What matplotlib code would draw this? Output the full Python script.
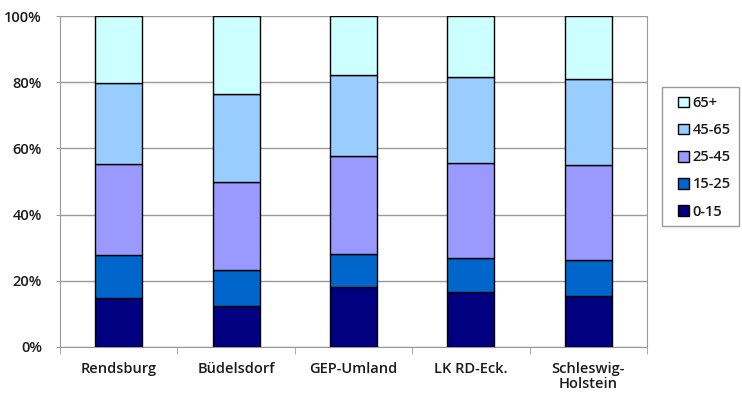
import matplotlib
matplotlib.use("Agg")
import matplotlib.pyplot as plt
from matplotlib.patches import Patch, Rectangle
from matplotlib.ticker import FixedLocator, PercentFormatter

plt.rcParams['font.family'] = ['Open Sans', 'DejaVu Sans']

regions = ["Rendsburg", "Büdelsdorf", "GEP-Umland", "LK RD-Eck.", "Schleswig-\nHolstein"]
age_groups = ["0-15", "15-25", "25-45", "45-65", "65+"]

share_0_15 = [14.7, 12.5, 18.2, 16.6, 15.4]
share_15_25 = [13.0, 10.8, 9.8, 10.4, 10.8]
share_25_45 = [27.5, 26.4, 29.7, 28.5, 28.8]
share_45_65 = [24.7, 26.6, 24.5, 26.2, 25.9]
share_65_plus = [20.1, 23.7, 17.8, 18.3, 19.1]

colors = ["#000080", "#0066CC", "#9999FF", "#99CCFF", "#CCFFFF"]

series = [share_0_15, share_15_25, share_25_45, share_45_65, share_65_plus]

W, H = 742, 396
fig = plt.figure(figsize=(W / 100, H / 100), dpi=100)
ax = fig.add_axes([60 / W, 49 / H, 587 / W, 331 / H])

x = list(range(len(regions)))
bottom = [0.0] * len(regions)
for vals, col, lab in zip(series, colors, age_groups):
    ax.bar(x, vals, width=0.4, bottom=bottom, color=col, edgecolor="black",
           linewidth=1.0, label=lab, zorder=3)
    bottom = [b + v for b, v in zip(bottom, vals)]

ax.set_xlim(-0.5, len(regions) - 0.5)
ax.set_ylim(0, 100)
ax.set_yticks([0, 20, 40, 60, 80, 100])
ax.yaxis.set_major_formatter(PercentFormatter(decimals=0))
ax.grid(axis="y", color="#9a9a9a", linewidth=1.0, zorder=0)

label_style = dict(fontsize=10.5, color="#1a1a1a", fontweight="semibold")

ax.set_xticks(x)
ax.set_xticklabels(regions, **label_style, linespacing=1.1)
ax.tick_params(axis="x", which="major", length=0, pad=11)
ax.xaxis.set_minor_locator(FixedLocator([i + 0.5 for i in range(-1, len(regions))]))
ax.tick_params(axis="x", which="minor", length=5, color="#9a9a9a")
ax.tick_params(axis="y", length=3, color="#9a9a9a", pad=10)
for t in ax.get_yticklabels():
    t.set_fontsize(10.5)
    t.set_color("#1a1a1a")
    t.set_fontweight("semibold")

for side in ["left", "bottom", "right"]:
    ax.spines[side].set_color("#9a9a9a")
ax.spines["top"].set_visible(False)

# legend frame drawn separately so its box can be sized freely
fig.patches.append(Rectangle((662 / W, 1 - 226 / H), 77 / W, 139 / H,
                             transform=fig.transFigure, facecolor="white",
                             edgecolor="#9a9a9a", linewidth=1.0, zorder=1))

handles = [Patch(facecolor=c, edgecolor="black", linewidth=1.0, label=l)
           for c, l in zip(colors, age_groups)]
leg = fig.legend(handles[::-1], age_groups[::-1], loc="upper left",
                 bbox_to_anchor=(678 / W, 1 - 96 / H),
                 frameon=False,
                 prop={"size": 10.5, "weight": "semibold"},
                 handlelength=0.75, handleheight=0.75,
                 handletextpad=0.25, labelspacing=0.9, borderpad=0,
                 borderaxespad=0)
leg.set_zorder(2)
for t in leg.get_texts():
    t.set_color("#1a1a1a")

fig.savefig("out.png", dpi=100)
